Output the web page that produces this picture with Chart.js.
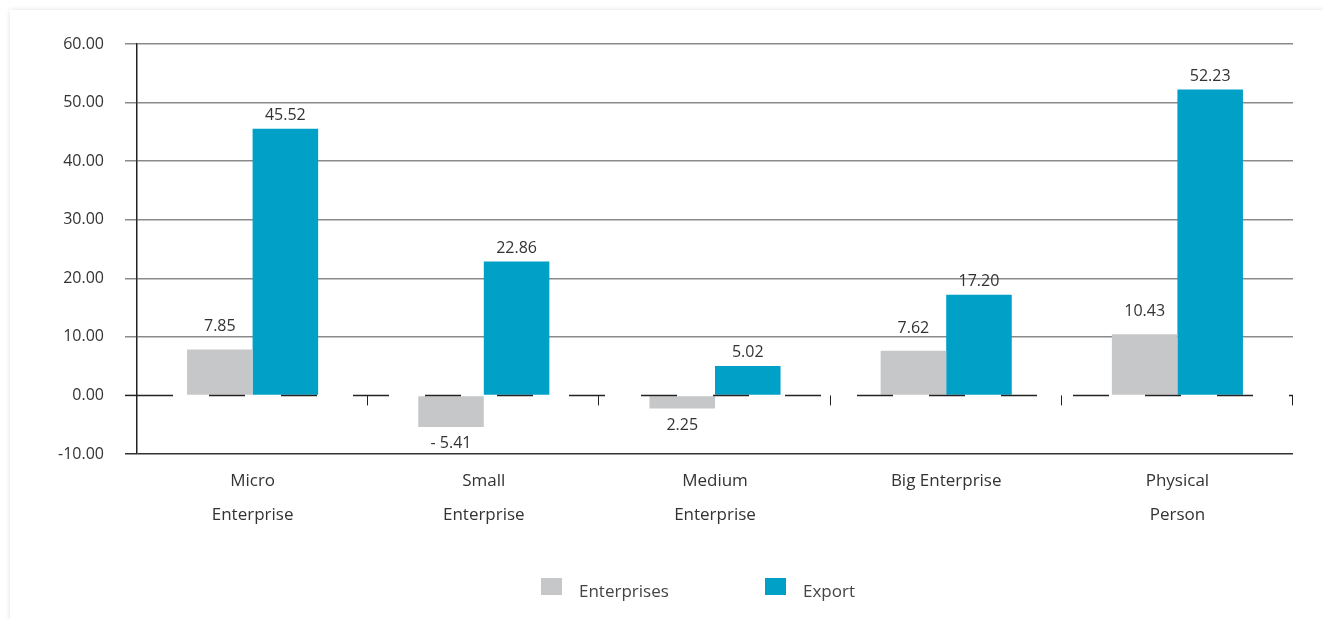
<!DOCTYPE html>
<html>
<head>
<meta charset="utf-8">
<script src="https://cdn.jsdelivr.net/npm/chart.js"></script>
<style>
  body { margin: 0; background: #fff; font-family: "Open Sans", sans-serif; overflow: hidden; }
  #card { position: absolute; left: 10px; top: 10px; width: 1340px; height: 640px; background: #fff;
          box-shadow: 0 0 5px rgba(0, 0, 0, 0.13); }
  #wrap { position: absolute; left: 0; top: 0; width: 1323px; height: 619px; }
  .item { position: absolute; top: 578px; height: 25px; font-size: 17px; color: #444; line-height: 25px; white-space: nowrap; }
  .item span { display: inline-block; width: 21px; height: 17px; vertical-align: top; margin-right: 17px; }
</style>
</head>
<body>
<div id="card"></div>
<div id="wrap"><canvas id="chart" width="1323" height="619"></canvas></div>
<div class="item" id="leg0" style="left:541px"><span></span>Enterprises</div>
<div class="item" id="leg1" style="left:765px"><span></span>Export</div>
<script>
const categories = [["Micro", "Enterprise"], ["Small", "Enterprise"], ["Medium", "Enterprise"], "Big Enterprise", ["Physical", "Person"]];
const enterprises = [7.85, -5.41, -2.25, 7.62, 10.43];
const exportValues = [45.52, 22.86, 5.02, 17.20, 52.23];
const enterpriseLabels = ["7.85", "- 5.41", "2.25", "7.62", "10.43"];
const exportLabels = ["45.52", "22.86", "5.02", "17.20", "52.23"];
const yTicks = [-10, 0, 10, 20, 30, 40, 50, 60];

const grey = "#c6c7c9";
const teal = "#01a0c6";
const fontFamily = "'Open Sans', sans-serif";

document.querySelector("#leg0 span").style.background = grey;
document.querySelector("#leg1 span").style.background = teal;

// valeurs au-dessus / en-dessous des barres
const barLabels = {
  id: "barLabels",
  afterDatasetsDraw(chart) {
    const ctx = chart.ctx;
    ctx.save();
    ctx.font = "16px " + fontFamily;
    ctx.fillStyle = "#333";
    ctx.textAlign = "center";
    ctx.textBaseline = "alphabetic";
    chart.data.datasets.forEach((ds, i) => {
      const meta = chart.getDatasetMeta(i);
      meta.data.forEach((bar, j) => {
        const v = ds.data[j];
        const txt = ds.valueLabels[j];
        if (v >= 0) ctx.fillText(txt, bar.x, bar.y - ds.labelGap);
        else ctx.fillText(txt, bar.x, bar.y + 21);
      });
    });
    ctx.restore();
  }
};

// ligne du zéro en tirets par-dessus les barres
const zeroLine = {
  id: "zeroLine",
  afterDatasetsDraw(chart) {
    const { ctx, chartArea } = chart;
    const y0 = chart.scales.y.getPixelForValue(0);
    ctx.save();
    ctx.strokeStyle = "#222";
    ctx.lineWidth = 1.5;
    ctx.beginPath();
    ctx.moveTo(chartArea.left - 12, y0);
    ctx.lineTo(chartArea.left, y0);
    ctx.stroke();
    ctx.save();
    ctx.beginPath();
    ctx.rect(chartArea.left, 0, chartArea.right - chartArea.left, chart.height);
    ctx.clip();
    ctx.setLineDash([36, 36]);
    ctx.beginPath();
    ctx.moveTo(chartArea.left, y0);
    ctx.lineTo(chartArea.right + 40, y0);
    ctx.stroke();
    ctx.restore();
    ctx.lineWidth = 1;
    const step = (chartArea.right - chartArea.left) / categories.length;
    for (let i = 1; i <= categories.length; i++) {
      const x = Math.round(chartArea.left + i * step) - 0.5;
      ctx.beginPath();
      ctx.moveTo(x, y0);
      ctx.lineTo(x, y0 + 10);
      ctx.stroke();
    }
    ctx.restore();
  }
};

new Chart(document.getElementById("chart"), {
  type: "bar",
  data: {
    labels: categories,
    datasets: [
      { label: "Enterprises", data: enterprises, valueLabels: enterpriseLabels, labelGap: 18, backgroundColor: grey },
      { label: "Export", data: exportValues, valueLabels: exportLabels, labelGap: 9, backgroundColor: teal }
    ]
  },
  options: {
    responsive: false,
    animation: false,
    events: [],
    categoryPercentage: 0.567,
    barPercentage: 1.0,
    layout: { padding: { left: 0, right: 30, top: 44, bottom: 77 } },
    plugins: { legend: { display: false }, tooltip: { enabled: false } },
    scales: {
      x: {
        grid: { display: false, drawTicks: false },
        border: { display: false },
        ticks: { color: "#333", font: { family: fontFamily, size: 17, lineHeight: 2 }, padding: 10, maxRotation: 0, autoSkip: false }
      },
      y: {
        min: -10,
        max: 60,
        afterBuildTicks: (scale) => { scale.ticks = yTicks.map(v => ({ value: v })); },
        afterFit: (scale) => { scale.width = 137; },
        grid: {
          tickLength: 12,
          lineWidth: 1.5,
          color: (c) => c.tick.value === -10 ? "#333" : (c.tick.value === 0 ? "rgba(0,0,0,0)" : "#8a8a8a")
        },
        border: { display: true, color: "#222", width: 1.5 },
        ticks: { color: "#333", padding: 21, font: { family: fontFamily, size: 16 }, callback: (v) => Number(v).toFixed(2) }
      }
    }
  },
  plugins: [barLabels, zeroLine]
});
</script>
</body>
</html>
